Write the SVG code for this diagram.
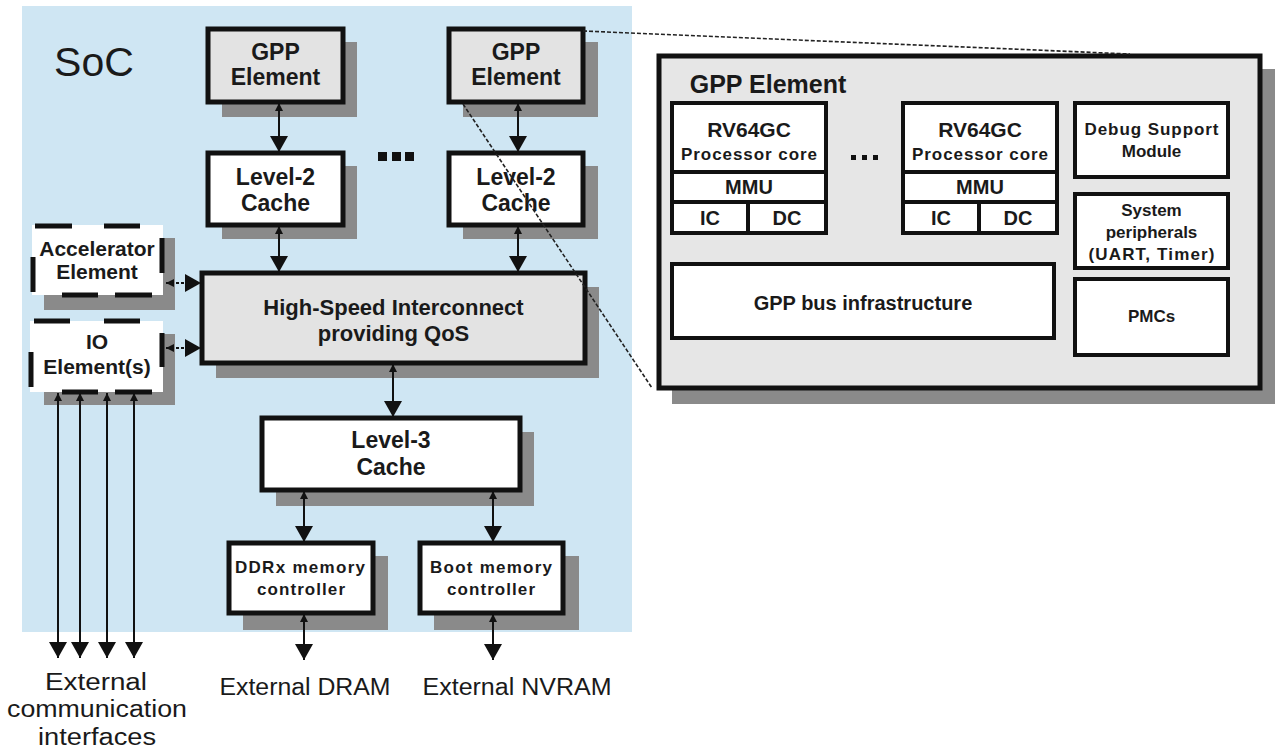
<svg xmlns="http://www.w3.org/2000/svg" width="1276" height="756" viewBox="0 0 1276 756">
  <style>
    .box { stroke: #111; stroke-width: 5; }
    .grey { fill: #e3e3e3; }
    .white { fill: #ffffff; }
    .shadow { fill: #8a8a8a; }
    .inner { fill: #ffffff; stroke: #111; stroke-width: 4; }
    .lbl { font-family: "Liberation Sans", Arial, sans-serif; font-weight: bold; fill: #1a1a1a; text-anchor: middle; }
    .ext { font-family: "Liberation Sans", Arial, sans-serif; fill: #1a1a1a; text-anchor: middle; font-size: 23px; }
    .conn { stroke: #111; stroke-width: 2; fill: none; }
    .dconn { stroke: #111; stroke-width: 2; fill: none; stroke-dasharray: 3 2; }
    .zoomline { stroke: #222; stroke-width: 1.6; fill: none; stroke-dasharray: 4 2; }
    .dash { stroke: #111; stroke-width: 5; fill: none; }
  </style>
  <defs>
    <marker id="headBig" viewBox="0 0 16 18" refX="16" refY="9" markerWidth="16" markerHeight="18" markerUnits="userSpaceOnUse" orient="auto">
      <path d="M0,0 L16,9 L0,18 z" fill="#111"/>
    </marker>
    <marker id="headSmall" viewBox="0 0 8 8" refX="8" refY="4" markerWidth="8" markerHeight="8" markerUnits="userSpaceOnUse" orient="auto-start-reverse">
      <path d="M0,0 L8,4 L0,8 z" fill="#111"/>
    </marker>
  </defs>

  <rect width="1276" height="756" fill="#ffffff"/>

  <!-- SoC area -->
  <g id="soc">
    <rect x="22" y="6" width="610" height="626" fill="#cfe6f3"/>
    <text x="94" y="76" font-family="'Liberation Sans', Arial, sans-serif" font-size="41" fill="#1a1a1a" text-anchor="middle">SoC</text>
  </g>

  <g id="gpp1">
    <rect class="shadow" x="222" y="42" width="135" height="75"/>
    <rect class="box grey" x="208" y="29" width="135" height="73"/>
    <text class="lbl" x="275.5" y="60" font-size="23">GPP</text>
    <text class="lbl" x="275.5" y="85" font-size="23">Element</text>
  </g>

  <g id="gpp2">
    <rect class="shadow" x="463" y="42" width="135" height="75"/>
    <rect class="box grey" x="449" y="29" width="134" height="73"/>
    <text class="lbl" x="516" y="60" font-size="23">GPP</text>
    <text class="lbl" x="516" y="85" font-size="23">Element</text>
  </g>

  <g id="l2cache1">
    <rect class="shadow" x="222" y="166" width="135" height="73"/>
    <rect class="box white" x="208" y="153" width="135" height="72"/>
    <text class="lbl" x="275.5" y="185" font-size="23">Level-2</text>
    <text class="lbl" x="275.5" y="211" font-size="23">Cache</text>
  </g>

  <g id="l2cache2">
    <rect class="shadow" x="463" y="166" width="135" height="73"/>
    <rect class="box white" x="449" y="153" width="134" height="72"/>
    <text class="lbl" x="516" y="185" font-size="23">Level-2</text>
    <text class="lbl" x="516" y="211" font-size="23">Cache</text>
  </g>

  <g id="ellipsis-l2" fill="#111">
    <rect x="378" y="152" width="9" height="9"/>
    <rect x="392" y="152" width="9" height="9"/>
    <rect x="405" y="152" width="9" height="9"/>
  </g>

  <g id="accelerator">
    <rect class="shadow" x="44" y="238" width="131" height="72"/>
    <rect class="white" x="32" y="225" width="131" height="70"/>
    <path class="dash" d="M35,226 H72 M104,226 H140 M33,257 V292 M162,238 V273 M62,295 H98 M115,295 H152"/>
    <text class="lbl" x="97" y="256" font-size="21">Accelerator</text>
    <text class="lbl" x="97" y="279" font-size="21">Element</text>
  </g>

  <g id="io">
    <rect class="shadow" x="44" y="334" width="131" height="71"/>
    <rect class="white" x="30" y="321" width="133" height="71"/>
    <path class="dash" d="M34,321 H70 M104,321 H140 M31,352 V387 M162,333 V367 M62,392 H98 M115,392 H152"/>
    <text class="lbl" x="97" y="349" font-size="21">IO</text>
    <text class="lbl" x="97" y="374" font-size="21">Element(s)</text>
  </g>

  <g id="interconnect">
    <rect class="shadow" x="216" y="287" width="383" height="91"/>
    <rect class="box grey" x="202" y="273" width="383" height="90"/>
    <text class="lbl" x="393.5" y="315" font-size="22">High-Speed Interconnect</text>
    <text class="lbl" x="393.5" y="341" font-size="22">providing QoS</text>
  </g>

  <g id="l3cache">
    <rect class="shadow" x="276" y="432" width="258" height="74"/>
    <rect class="box white" x="262" y="418" width="258" height="72"/>
    <text class="lbl" x="391" y="448" font-size="23">Level-3</text>
    <text class="lbl" x="391" y="475" font-size="23">Cache</text>
  </g>

  <g id="ddr">
    <rect class="shadow" x="243" y="556" width="145" height="74"/>
    <rect class="box white" x="229" y="543" width="144" height="70"/>
    <text class="lbl" x="300" y="573" font-size="17" textLength="130" lengthAdjust="spacing">DDRx  memory</text>
    <text class="lbl" x="301" y="595" font-size="17" textLength="88" lengthAdjust="spacing">controller</text>
  </g>

  <g id="boot">
    <rect class="shadow" x="434" y="556" width="145" height="74"/>
    <rect class="box white" x="420" y="543" width="143" height="70"/>
    <text class="lbl" x="491" y="573" font-size="17" textLength="122" lengthAdjust="spacing">Boot  memory</text>
    <text class="lbl" x="491" y="595" font-size="17" textLength="88" lengthAdjust="spacing">controller</text>
  </g>

  <g id="external-labels">
    <text class="ext" x="96" y="690" textLength="102" lengthAdjust="spacingAndGlyphs">External</text>
    <text class="ext" x="97" y="717" textLength="180" lengthAdjust="spacingAndGlyphs">communication</text>
    <text class="ext" x="97" y="745" textLength="118" lengthAdjust="spacingAndGlyphs">interfaces</text>
    <text class="ext" x="305" y="695" textLength="171" lengthAdjust="spacingAndGlyphs">External DRAM</text>
    <text class="ext" x="517" y="695" textLength="189" lengthAdjust="spacingAndGlyphs">External NVRAM</text>
  </g>

  <!-- Detailed view of one GPP element -->
  <g id="gpp-detail">
    <rect class="shadow" x="672" y="69" width="603" height="335"/>
    <rect class="box" x="659" y="56" width="601" height="332" fill="#e6e6e6"/>
    <text class="lbl" x="768" y="93" font-size="25">GPP Element</text>
  </g>

  <g id="core1">
    <rect class="inner" x="672" y="103" width="154" height="130"/>
    <path class="conn" style="stroke-width:4" d="M672,172 H826 M672,202 H826 M748,202 V233"/>
    <text class="lbl" x="749" y="137" font-size="21">RV64GC</text>
    <text class="lbl" x="749" y="160" font-size="17" textLength="136" lengthAdjust="spacing">Processor  core</text>
    <text class="lbl" x="749" y="194" font-size="20">MMU</text>
    <text class="lbl" x="710" y="225" font-size="20">IC</text>
    <text class="lbl" x="787" y="225" font-size="20">DC</text>
  </g>

  <g id="ellipsis-cores" fill="#111">
    <rect x="851" y="155" width="5" height="5"/>
    <rect x="862" y="155" width="5" height="5"/>
    <rect x="873" y="155" width="5" height="5"/>
  </g>

  <g id="core2">
    <rect class="inner" x="903" y="103" width="154" height="130"/>
    <path class="conn" style="stroke-width:4" d="M903,172 H1057 M903,202 H1057 M979,202 V233"/>
    <text class="lbl" x="980" y="137" font-size="21">RV64GC</text>
    <text class="lbl" x="980" y="160" font-size="17" textLength="136" lengthAdjust="spacing">Processor  core</text>
    <text class="lbl" x="980" y="194" font-size="20">MMU</text>
    <text class="lbl" x="941" y="225" font-size="20">IC</text>
    <text class="lbl" x="1018" y="225" font-size="20">DC</text>
  </g>

  <g id="debug">
    <rect class="inner" x="1075" y="103" width="153" height="74"/>
    <text class="lbl" x="1151.5" y="135" font-size="17" textLength="134" lengthAdjust="spacing">Debug Support</text>
    <text class="lbl" x="1151.5" y="157" font-size="17">Module</text>
  </g>

  <g id="peripherals">
    <rect class="inner" x="1075" y="194" width="153" height="74"/>
    <text class="lbl" x="1151.5" y="216" font-size="17">System</text>
    <text class="lbl" x="1151.5" y="238" font-size="17">peripherals</text>
    <text class="lbl" x="1151.5" y="260" font-size="17" textLength="126" lengthAdjust="spacing">(UART,  Timer)</text>
  </g>

  <g id="pmcs">
    <rect class="inner" x="1075" y="279" width="153" height="76"/>
    <text class="lbl" x="1151.5" y="322" font-size="17">PMCs</text>
  </g>

  <g id="bus">
    <rect class="inner" x="672" y="264" width="382" height="74"/>
    <text class="lbl" x="863" y="310" font-size="20">GPP bus infrastructure</text>
  </g>

  <!-- Connectors -->
  <g id="connectors">
    <path class="conn" marker-start="url(#headSmall)" marker-end="url(#headBig)" d="M279,103 V152"/>
    <path class="conn" marker-start="url(#headSmall)" marker-end="url(#headBig)" d="M518,103 V152"/>
    <path class="conn" marker-start="url(#headSmall)" marker-end="url(#headBig)" d="M279,226 V272"/>
    <path class="conn" marker-start="url(#headSmall)" marker-end="url(#headBig)" d="M518,226 V272"/>
    <path class="conn" marker-start="url(#headSmall)" marker-end="url(#headBig)" d="M393,364 V417"/>
    <path class="conn" marker-start="url(#headSmall)" marker-end="url(#headBig)" d="M304,491 V542"/>
    <path class="conn" marker-start="url(#headSmall)" marker-end="url(#headBig)" d="M493,491 V542"/>
    <path class="conn" marker-start="url(#headSmall)" marker-end="url(#headBig)" d="M304,614 V660"/>
    <path class="conn" marker-start="url(#headSmall)" marker-end="url(#headBig)" d="M493,614 V660"/>
    <path class="dconn" marker-start="url(#headSmall)" marker-end="url(#headBig)" d="M166,283 H201"/>
    <path class="dconn" marker-start="url(#headSmall)" marker-end="url(#headBig)" d="M166,348 H201"/>
    <path class="conn" marker-start="url(#headSmall)" marker-end="url(#headBig)" d="M58,393 V658"/>
    <path class="conn" marker-start="url(#headSmall)" marker-end="url(#headBig)" d="M80,393 V658"/>
    <path class="conn" marker-start="url(#headSmall)" marker-end="url(#headBig)" d="M107,393 V658"/>
    <path class="conn" marker-start="url(#headSmall)" marker-end="url(#headBig)" d="M134,393 V658"/>
    <!-- zoom-out lines tying the second GPP element to its detailed view -->
    <path class="zoomline" d="M583,31 L1130,54"/>
    <path class="zoomline" d="M463,104 L652,388"/>
  </g>
</svg>
